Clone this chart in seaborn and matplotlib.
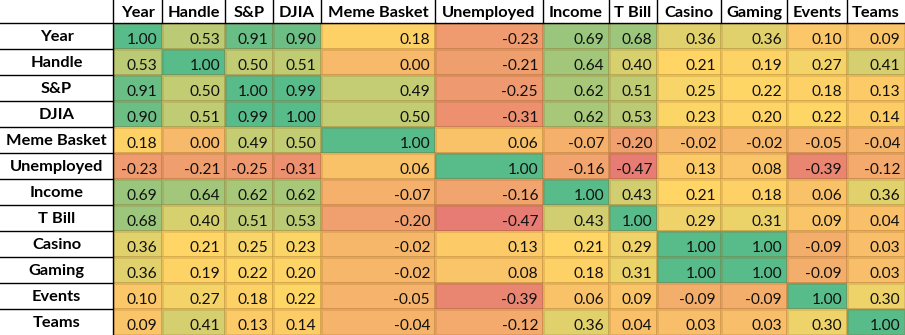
import numpy as np
import pandas as pd
import seaborn as sns
import matplotlib.pyplot as plt
from matplotlib.colors import LinearSegmentedColormap, TwoSlopeNorm
from matplotlib.lines import Line2D

labels = ["Year", "Handle", "S&P", "DJIA", "Meme Basket", "Unemployed",
          "Income", "T Bill", "Casino", "Gaming", "Events", "Teams"]

year       = [1.00, 0.53, 0.91, 0.90, 0.18, -0.23, 0.69, 0.68, 0.36, 0.36, 0.10, 0.09]
handle     = [0.53, 1.00, 0.50, 0.51, 0.00, -0.21, 0.64, 0.40, 0.21, 0.19, 0.27, 0.41]
sp         = [0.91, 0.50, 1.00, 0.99, 0.49, -0.25, 0.62, 0.51, 0.25, 0.22, 0.18, 0.13]
djia       = [0.90, 0.51, 0.99, 1.00, 0.50, -0.31, 0.62, 0.53, 0.23, 0.20, 0.22, 0.14]
meme       = [0.18, 0.00, 0.49, 0.50, 1.00, 0.06, -0.07, -0.20, -0.02, -0.02, -0.05, -0.04]
unemployed = [-0.23, -0.21, -0.25, -0.31, 0.06, 1.00, -0.16, -0.47, 0.13, 0.08, -0.39, -0.12]
income     = [0.69, 0.64, 0.62, 0.62, -0.07, -0.16, 1.00, 0.43, 0.21, 0.18, 0.06, 0.36]
tbill      = [0.68, 0.40, 0.51, 0.53, -0.20, -0.47, 0.43, 1.00, 0.29, 0.31, 0.09, 0.04]
casino     = [0.36, 0.21, 0.25, 0.23, -0.02, 0.13, 0.21, 0.29, 1.00, 1.00, -0.09, 0.03]
gaming     = [0.36, 0.19, 0.22, 0.20, -0.02, 0.08, 0.18, 0.31, 1.00, 1.00, -0.09, 0.03]
events     = [0.10, 0.27, 0.18, 0.22, -0.05, -0.39, 0.06, 0.09, -0.09, -0.09, 1.00, 0.30]
teams      = [0.09, 0.41, 0.13, 0.14, -0.04, -0.12, 0.36, 0.04, 0.03, 0.03, 0.30, 1.00]

df = pd.DataFrame([year, handle, sp, djia, meme, unemployed, income, tbill,
                   casino, gaming, events, teams], index=labels, columns=labels)

# layout in pixels
W, H = 905, 335
col_edges_px = np.array([113, 162, 225, 273, 321, 435, 543, 609, 657, 721, 787, 847, 905], float)
header_h = 23.3
row_h = 26.0

plt.rcParams['font.family'] = ['Lato', 'DejaVu Sans']
fig = plt.figure(figsize=(W / 100, H / 100), dpi=100)
ax_h = 12 * row_h
ax = fig.add_axes([col_edges_px[0] / W, (H - header_h - ax_h) / H,
                   (W - col_edges_px[0]) / W, ax_h / H])

vals = df.values
cmap = LinearSegmentedColormap.from_list("gyr", ["#E67C73", "#FFD666", "#57BB8A"])
norm = TwoSlopeNorm(vmin=vals.min(), vcenter=float(np.median(vals)), vmax=vals.max())

sns.heatmap(df, ax=ax, cmap=cmap, norm=norm, cbar=False, annot=False,
            linewidths=0.8, linecolor=(0.55, 0.35, 0.1, 0.18))

idx = np.arange(13, dtype=float)
px = col_edges_px - col_edges_px[0]
def fwd(x):
    return np.interp(x, idx, px)
def inv(x):
    return np.interp(x, px, idx)
ax.set_xscale('function', functions=(fwd, inv))
ax.set_xlim(0, 12)
ax.set_ylim(12, 0)
ax.set_xticks([])
ax.set_yticks([])
ax.set_xlabel("")
ax.set_ylabel("")
for s in ax.spines.values():
    s.set_visible(False)

# cell values, right aligned
for i in range(12):
    for j in range(12):
        ax.annotate(f"{vals[i, j]:.2f}", xy=(j + 1, i + 0.5), xytext=(-5, -7.2),
                    textcoords='offset pixels', ha='right', va='baseline',
                    fontsize=11.2, color='#111111')

# header labels
for j, lab in enumerate(labels):
    cx = (col_edges_px[j] + col_edges_px[j + 1]) / 2 / W
    fig.text(cx, 1 - 17.0 / H, lab, ha='center', va='baseline',
             fontsize=11.8, fontweight='bold', color='black')

# row labels
for i, lab in enumerate(labels):
    cy = 1 - (header_h + row_h * (i + 0.5) + 5.0) / H
    fig.text(col_edges_px[0] / 2 / W, cy, lab, ha='center', va='baseline',
             fontsize=11.8, fontweight='bold', color='black')

# black borders
def fline(x0, y0, x1, y1):
    fig.add_artist(Line2D([x0 / W, x1 / W], [1 - y0 / H, 1 - y1 / H],
                          color='black', lw=1.0, transform=fig.transFigure))

fline(0, header_h, W, header_h)
fline(col_edges_px[0], 0, col_edges_px[0], H)
for e in col_edges_px[1:-1]:
    fline(e, 0, e, header_h)
for i in range(1, 12):
    y = header_h + row_h * i
    fline(0, y, col_edges_px[0], y)

fig.savefig("out.png", dpi=100)
